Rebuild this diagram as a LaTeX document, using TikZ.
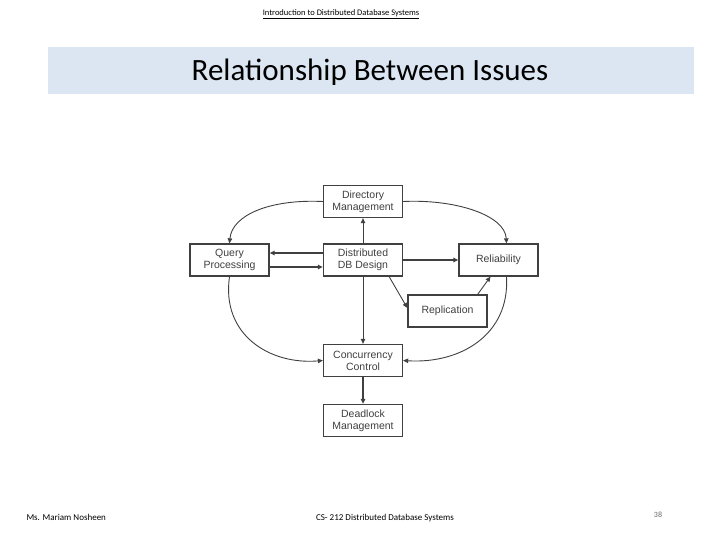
\documentclass[tikz,border=0pt]{standalone}
\usepackage{fontspec}
\setmainfont{Carlito}
\newfontfamily\diag{Liberation Sans}
\usetikzlibrary{arrows.meta}
\begin{document}
\begin{tikzpicture}[x=1pt,y=-1pt,
  box/.style={draw=black!75,line width=1.3pt,fill=white,minimum width=79pt,minimum height=32pt,align=center,font=\diag\fontsize{10.5}{12}\selectfont,text=black!75,inner sep=1pt},
  arr/.style={draw=black!75,line width=0.9pt,-{Triangle[length=5pt,width=4.5pt]}},
  thick arr/.style={arr,line width=1.4pt}]
\useasboundingbox (0,0) rectangle (720,540);
\node[font=\fontsize{8.5}{9}\selectfont] (hdr) at (341,14) {\underline{Introduction to Distributed Database Systems}};
\node[fill={rgb,255:red,220;green,230;blue,242},minimum width=646pt,minimum height=47pt,inner sep=0pt] (band) at (371,70.5) {};
\node[font=\fontsize{31}{34}\selectfont] (title) at (370,72) {Relationship Between Issues};
\node (dir) [box] at (363,201.5) {Directory\\Management};
\node (qp) [box] at (229.5,260) {Query\\Processing};
\node (ddb) [box] at (363,260) {Distributed\\DB Design};
\node (rel) [box] at (498.5,260) {Reliability};
\node (rep) [box] at (447.5,311) {Replication};
\node (cc) [box] at (363,360.5) {Concurrency\\Control};
\node (dl) [box] at (363,420.5) {Deadlock\\Management};
\draw[arr] (dir.west) .. controls (270,199) and (232,215) .. (qp.north);
\draw[arr] (dir.east) .. controls (455,199) and (505,215) .. ([xshift=8]rel.north);
\draw[arr] (qp.south) .. controls (221,335) and (270,365) .. (cc.west);
\draw[arr] ([xshift=8]rel.south) .. controls (510,335) and (460,364) .. (cc.east);
\draw[thick arr] ([yshift=7]ddb.west) -- ([yshift=7]qp.east);
\draw[thick arr] ([yshift=-7]qp.east) -- ([yshift=-7]ddb.west);
\draw[thick arr] (ddb.east) -- (rel.west);
\draw[arr] (ddb.north) -- (dir.south);
\draw[arr] (ddb.south) -- (cc.north);
\draw[arr] ([xshift=-14]ddb.south east) -- ([yshift=3]rep.west);
\draw[arr] ([xshift=-10]rep.north east) -- ([xshift=-8]rel.south);
\draw[thick arr] (cc.south) -- (dl.north);
\node[font=\fontsize{9}{10}\selectfont,anchor=west] (auth) at (23,517) {Ms. Mariam Nosheen};
\node[font=\fontsize{9}{10}\selectfont] (course) at (385,518) {CS- 212 Distributed Database Systems};
\node[font=\fontsize{8}{9}\selectfont,text=black!60] (pg) at (658,515) {38};
\end{tikzpicture}
\end{document}
